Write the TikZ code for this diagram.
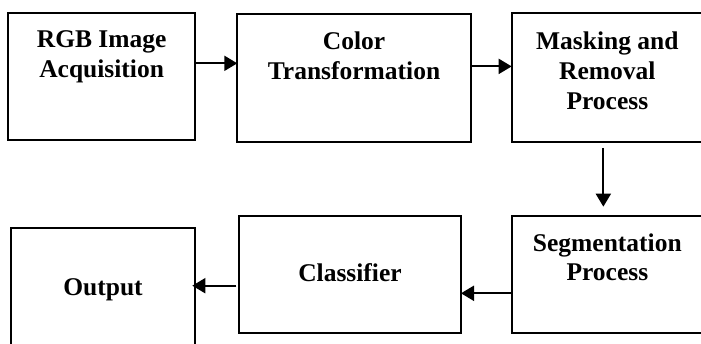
\documentclass[tikz,border=0pt]{standalone}
\usepackage{fontspec}
\setmainfont{Liberation Serif}
\usetikzlibrary{arrows.meta,calc}
\tikzset{
  box/.style={draw=black, line width=2pt, rectangle, inner sep=0pt, outer sep=0pt},
  txt/.style={font=\fontsize{25.5}{30}\selectfont\bfseries, align=center, inner sep=0pt},
  arr/.style={draw=black, line width=2pt, -{Triangle[length=13pt,width=15pt]}}
}
\begin{document}
\begin{tikzpicture}[x=1pt,y=1pt]
\useasboundingbox (0,0) rectangle (701,343);
\clip (0,0) rectangle (701,343);
% boxes
\node[box, minimum width=186.7pt, minimum height=127.3pt] (b1) at (101.65,266.65) {};
\node[box, minimum width=233.4pt, minimum height=128pt] (b2) at (354,265.3) {};
\node[box, minimum width=191.3pt, minimum height=128.2pt] (b3) at (607.35,265.4) {};
\node[box, minimum width=184pt, minimum height=119.3pt] (b4) at (103,55.65) {};
\node[box, minimum width=222pt, minimum height=117.6pt] (b5) at (350,68.5) {};
\node[box, minimum width=191.3pt, minimum height=117.6pt] (b6) at (607.35,68.5) {};
% texts (base anchor = baseline of last line)
\node[txt, anchor=base] (t1) at ([yshift=-64.5pt]b1.north) {RGB Image\\Acquisition};
\node[txt, anchor=base] (t2) at ([yshift=-66.3pt]b2.north) {Color\\Transformation};
\node[txt, anchor=base] (t3) at ([yshift=-96.5pt]b3.north) {Masking and\\Removal\\Process};
\node[txt, anchor=base, font=\fontsize{25.5}{28.5}\selectfont\bfseries] (t6) at ([yshift=-64.3pt]b6.north) {Segmentation\\Process};
\node[txt, anchor=base] (t5) at ([yshift=-7.2pt]b5.center) {Classifier};
\node[txt, anchor=base] (t4) at ([yshift=-7.65pt]b4.center) {Output};
% connectors
\draw[arr] ([yshift=13pt]b1.east) -- ([yshift=13pt]b1.east -| b2.west);
\draw[arr] ([yshift=11.3pt]b2.east) -- ([yshift=11.3pt]b2.east -| b3.west);
\draw[arr] ([xshift=-4pt,yshift=-6.3pt]b3.south) -- ([xshift=-4pt,yshift=9pt]b6.north);
\draw[arr] ([yshift=-18.8pt]b6.west) -- ([yshift=-18.8pt]b6.west -| b5.east);
\draw[arr] ([xshift=-2.7pt,yshift=-11.2pt]b5.west) -- ([xshift=-2.7pt,yshift=-11.2pt]b5.west -| b4.east);
\end{tikzpicture}
\end{document}
